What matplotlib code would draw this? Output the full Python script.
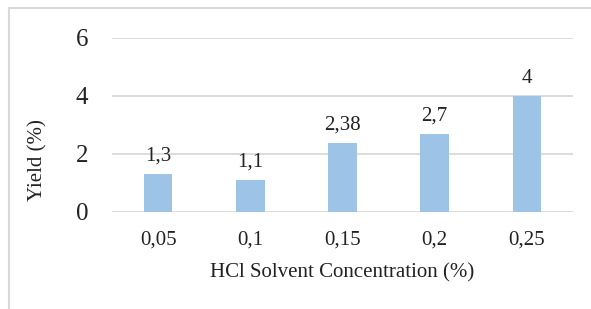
import numpy as np
import matplotlib.pyplot as plt
from matplotlib.patches import Rectangle

# data
concentrations = ['0,05', '0,1', '0,15', '0,2', '0,25']
yields = [1.3, 1.1, 2.38, 2.7, 4.0]
value_labels = ['1,3', '1,1', '2,38', '2,7', '4']
y_ticks = [0, 2, 4, 6]

plt.rcParams['font.family'] = ['Liberation Serif', 'DejaVu Serif']

fig = plt.figure(figsize=(5.91, 3.09), dpi=100)
ax = fig.add_axes([112 / 591, 1 - 212 / 309, 461 / 591, 174 / 309])

x = np.arange(len(concentrations))
bars = ax.bar(x, yields, width=0.31, color='#9DC3E6', zorder=3)

for b, lbl in zip(bars, value_labels):
    ax.annotate(lbl, (b.get_x() + b.get_width() / 2, b.get_height()),
                xytext=(0, 6), textcoords='offset points',
                ha='center', va='bottom', fontsize=15, color='#222222')

ax.set_xlim(-0.5, len(concentrations) - 0.5)
ax.set_ylim(0, 6)
ax.set_yticks(y_ticks)
ax.set_yticklabels([str(t) for t in y_ticks], fontsize=18, color='#222222')
ax.set_xticks(x)
ax.set_xticklabels(concentrations, fontsize=15, color='#222222')
ax.tick_params(length=0)
ax.tick_params(axis='y', pad=17)
ax.tick_params(axis='x', pad=13)
ax.grid(axis='y', color='#D9D9D9', linewidth=1.3, zorder=0)
for s in ax.spines.values():
    s.set_visible(False)

ax.set_xlabel('HCl Solvent Concentration (%)', fontsize=15, color='#222222')
ax.xaxis.set_label_coords(0.5, -0.295)
ax.set_ylabel('Yield (%)', fontsize=15, color='#222222')
ax.yaxis.set_label_coords(-0.139, 0.3)

# outer frame
fig.patches.append(Rectangle((9 / 591, -0.1), 2, 1 - 8 / 309 + 0.1,
                             transform=fig.transFigure, fill=False,
                             edgecolor='#D9D9D9', linewidth=1.5))

fig.savefig('out.png', dpi=100)
